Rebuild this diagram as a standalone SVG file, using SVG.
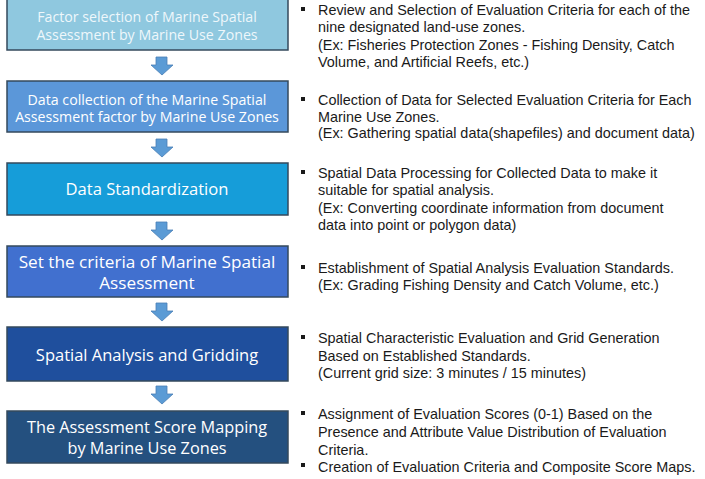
<svg xmlns="http://www.w3.org/2000/svg" width="705" height="479" viewBox="0 0 705 479">
<defs>
<style>
.box{stroke:#34495c;stroke-width:1.5}
.bt{font-family:"Open Sans","Noto Sans",sans-serif;font-size:16.5px;fill:#ffffff;text-anchor:middle}
.sm{font-size:14.2px}
.rt{font-family:"Liberation Sans",Arial,sans-serif;font-size:14.4px;fill:#1a1a1a}
.arr{fill:#5b9bd5;stroke:#4a7fb5;stroke-width:0.8}
.bul{fill:#1a1a1a}
</style>
</defs>
<rect width="705" height="479" fill="#ffffff"/>
<g id="n1">
<rect class="box" x="7" y="-2" width="281" height="52" fill="#8fc8df"/>
<text class="bt sm" x="147" y="22" style="fill:#eef7fb">Factor selection of Marine Spatial</text>
<text class="bt sm" x="147" y="39.5" style="fill:#eef7fb">Assessment by Marine Use Zones</text>
</g>
<g id="n2">
<rect class="box" x="7" y="81" width="281" height="51" fill="#5b97d9"/>
<text class="bt sm" x="147" y="104.5">Data collection of the Marine Spatial</text>
<text class="bt sm" x="147" y="122">Assessment factor by Marine Use Zones</text>
</g>
<g id="n3">
<rect class="box" x="7" y="163" width="281" height="52" fill="#169dd9"/>
<text class="bt" x="147" y="195" style="font-size:16.6px">Data Standardization</text>
</g>
<g id="n4">
<rect class="box" x="7" y="246" width="281" height="51" fill="#4170cf"/>
<text class="bt" x="147" y="268" style="font-size:17.2px">Set the criteria of Marine Spatial</text>
<text class="bt" x="147" y="289" style="font-size:17.2px">Assessment</text>
</g>
<g id="n5">
<rect class="box" x="7" y="327" width="281" height="54" fill="#1f4f9d"/>
<text class="bt" x="147" y="361">Spatial Analysis and Gridding</text>
</g>
<g id="n6">
<rect class="box" x="7" y="411" width="281" height="52" fill="#24507f"/>
<text class="bt" x="147" y="433" style="font-size:16.3px">The Assessment Score Mapping</text>
<text class="bt" x="147" y="454" style="font-size:16.3px">by Marine Use Zones</text>
</g>
<g id="connectors">
<path class="arr" d="M156,57 H167 V65 H173 L162,75 L151,65 H156 Z"/>
<path class="arr" d="M156,139 H167 V147 H173 L162,157 L151,147 H156 Z"/>
<path class="arr" d="M156,222 H167 V230 H173 L162,240 L151,230 H156 Z"/>
<path class="arr" d="M156,303 H167 V311 H173 L162,321 L151,311 H156 Z"/>
<path class="arr" d="M156,386 H167 V394 H173 L162,404 L151,394 H156 Z"/>
</g>
<g id="notes">
<rect class="bul" x="301" y="7" width="4" height="4"/>
<text class="rt" x="318" y="15">Review and Selection of Evaluation Criteria for each of the</text>
<text class="rt" x="318" y="32">nine designated land-use zones.</text>
<text class="rt" x="318" y="50">(Ex: Fisheries Protection Zones - Fishing Density, Catch</text>
<text class="rt" x="318" y="67">Volume, and Artificial Reefs, etc.)</text>
<rect class="bul" x="301" y="97" width="4" height="4"/>
<text class="rt" x="318" y="105">Collection of Data for Selected Evaluation Criteria for Each</text>
<text class="rt" x="318" y="121.5">Marine Use Zones.</text>
<text class="rt" x="318" y="138">(Ex: Gathering spatial data(shapefiles) and document data)</text>
<rect class="bul" x="301" y="170" width="4" height="4"/>
<text class="rt" x="318" y="178">Spatial Data Processing for Collected Data to make it</text>
<text class="rt" x="318" y="195">suitable for spatial analysis.</text>
<text class="rt" x="318" y="213">(Ex: Converting coordinate information from document</text>
<text class="rt" x="318" y="230">data into point or polygon data)</text>
<rect class="bul" x="301" y="265" width="4" height="4"/>
<text class="rt" x="318" y="273">Establishment of Spatial Analysis Evaluation Standards.</text>
<text class="rt" x="318" y="290">(Ex: Grading Fishing Density and Catch Volume, etc.)</text>
<rect class="bul" x="301" y="335" width="4" height="4"/>
<text class="rt" x="318" y="343">Spatial Characteristic Evaluation and Grid Generation</text>
<text class="rt" x="318" y="361">Based on Established Standards.</text>
<text class="rt" x="318" y="378">(Current grid size: 3 minutes / 15 minutes)</text>
<rect class="bul" x="301" y="411" width="4" height="4"/>
<text class="rt" x="318" y="419">Assignment of Evaluation Scores (0-1) Based on the</text>
<text class="rt" x="318" y="437">Presence and Attribute Value Distribution of Evaluation</text>
<text class="rt" x="318" y="454.5">Criteria.</text>
<rect class="bul" x="301" y="463" width="4" height="4"/>
<text class="rt" x="318" y="472">Creation of Evaluation Criteria and Composite Score Maps.</text>
</g>
</svg>
